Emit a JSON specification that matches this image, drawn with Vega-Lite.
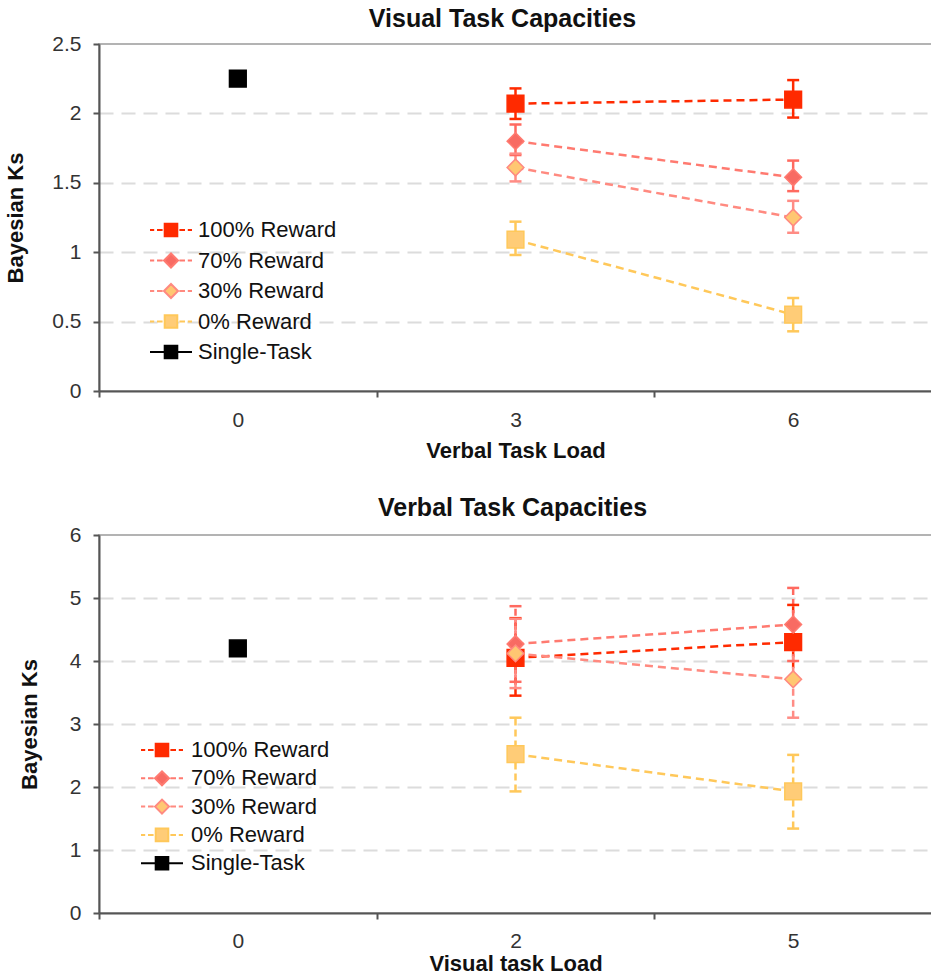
{
  "$schema": "https://vega.github.io/schema/vega-lite/v6.json",
  "padding": {"left": 4, "top": 6, "right": 0, "bottom": 0},
  "spacing": 33,
  "config": {
    "font": "Liberation Sans",
    "view": {"stroke": "#9a9a9a", "strokeWidth": 1.5},
    "axis": {
      "labelFont": "Liberation Sans", "labelFontSize": 21, "labelColor": "#333333",
      "titleFont": "Liberation Sans", "titleFontSize": 22, "titleFontWeight": "bold", "titleColor": "#111111",
      "domainColor": "#555555", "domainWidth": 2, "tickColor": "#555555", "tickWidth": 2, "tickSize": 6
    },
    "legend": {
      "symbolType": {"expr": "datum.label === 'Single-Task' ? 'M-3,0H-0.85M0.85,0H3M-0.9,-0.9H0.9V0.9H-0.9Z' : (datum.label === '70% Reward' || datum.label === '30% Reward') ? 'M-3,0H-2.4M-2,0H-1.2M1.2,0H2M2.4,0H3M-1,0L0,-1L1,0L0,1Z' : 'M-3,0H-2.4M-2,0H-1.2M1.2,0H2M2.4,0H3M-0.9,-0.9H0.9V0.9H-0.9Z'"},
      "symbolStrokeColor": {"expr": "datum.label === '100% Reward' ? '#ff2a00' : datum.label === '70% Reward' ? '#ff7a70' : datum.label === '30% Reward' ? '#ff8a80' : datum.label === '0% Reward' ? '#ffc85a' : '#000000'"}
    },
    "title": {"font": "Liberation Sans", "fontSize": 25, "fontWeight": "bold", "color": "#111111", "frame": "group"}
  },
  "datasets": {
    "visual": [
      {"series": "Single-Task", "load": "0", "value": 2.25},
      {"series": "100% Reward", "load": "3", "value": 2.07, "lo": 1.96, "hi": 2.18},
      {"series": "100% Reward", "load": "6", "value": 2.10, "lo": 1.97, "hi": 2.24},
      {"series": "70% Reward", "load": "3", "value": 1.80, "lo": 1.70, "hi": 1.92},
      {"series": "70% Reward", "load": "6", "value": 1.54, "lo": 1.44, "hi": 1.66},
      {"series": "30% Reward", "load": "3", "value": 1.61, "lo": 1.51, "hi": 1.71},
      {"series": "30% Reward", "load": "6", "value": 1.25, "lo": 1.14, "hi": 1.37},
      {"series": "0% Reward", "load": "3", "value": 1.09, "lo": 0.98, "hi": 1.22},
      {"series": "0% Reward", "load": "6", "value": 0.55, "lo": 0.43, "hi": 0.67}
    ],
    "verbal": [
      {"series": "Single-Task", "load": "0", "value": 4.2},
      {"series": "100% Reward", "load": "2", "value": 4.05, "lo": 3.45, "hi": 4.68},
      {"series": "100% Reward", "load": "5", "value": 4.30, "lo": 3.71, "hi": 4.89},
      {"series": "70% Reward", "load": "2", "value": 4.27, "lo": 3.67, "hi": 4.87},
      {"series": "70% Reward", "load": "5", "value": 4.58, "lo": 4.00, "hi": 5.16},
      {"series": "30% Reward", "load": "2", "value": 4.12, "lo": 3.57, "hi": 4.67},
      {"series": "30% Reward", "load": "5", "value": 3.71, "lo": 3.10, "hi": 4.32},
      {"series": "0% Reward", "load": "2", "value": 2.52, "lo": 1.93, "hi": 3.10},
      {"series": "0% Reward", "load": "5", "value": 1.93, "lo": 1.34, "hi": 2.51}
    ]
  },
  "vconcat": [
    {
      "width": 833, "height": 347,
      "title": {"text": "Visual Task Capacities", "dx": -13, "offset": 1},
      "data": {"name": "visual"},
      "encoding": {
        "x": {"field": "load", "type": "ordinal",
          "scale": {"type": "band", "domain": ["0", "3", "6"], "paddingInner": 0, "paddingOuter": 0},
          "axis": {"title": "Verbal Task Load", "labelAngle": 0, "tickBand": "extent", "labelPadding": 12, "titlePadding": 10, "grid": false}}
      },
      "layer": [
        {"mark": {"type": "rule", "strokeWidth": 2.5},
         "encoding": {
           "y": {"field": "lo", "type": "quantitative", "scale": {"domain": [0, 2.5], "nice": false, "zero": false},
             "axis": {"title": "Bayesian Ks", "values": [0, 0.5, 1, 1.5, 2, 2.5], "format": "~g", "grid": true,
               "gridDash": [14, 8], "gridWidth": 2,
               "gridColor": {"condition": {"test": "datum.value === 0 || datum.value === 2.5", "value": "transparent"}, "value": "#dcdcdc"},
               "labelPadding": 12, "titlePadding": 24}},
           "y2": {"field": "hi"},
           "color": {"field": "series", "type": "nominal", "legend": null,
             "scale": {"domain": ["Single-Task", "0% Reward", "30% Reward", "70% Reward", "100% Reward"], "range": ["#000000", "#ffc85a", "#ff8c85", "#ff6a60", "#ff2a00"]}}
         }},
        {"mark": {"type": "tick", "size": 12, "thickness": 2.5, "opacity": 1},
         "encoding": {"y": {"field": "lo", "type": "quantitative"}, "color": {"field": "series", "type": "nominal", "legend": null}}},
        {"mark": {"type": "tick", "size": 12, "thickness": 2.5, "opacity": 1},
         "encoding": {"y": {"field": "hi", "type": "quantitative"}, "color": {"field": "series", "type": "nominal", "legend": null}}},
        {"mark": {"type": "line", "strokeDash": [8, 5], "strokeWidth": 2.5},
         "encoding": {
           "y": {"field": "value", "type": "quantitative"},
           "stroke": {"field": "series", "type": "nominal", "legend": null,
             "scale": {"domain": ["Single-Task", "0% Reward", "30% Reward", "70% Reward", "100% Reward"], "range": ["#000000", "#ffc85a", "#ff8a80", "#ff7a70", "#ff2a00"]}}
         }},
        {"mark": {"type": "point", "filled": true, "size": 280, "strokeWidth": 1.5, "opacity": 1},
         "encoding": {
           "y": {"field": "value", "type": "quantitative"},
           "shape": {"field": "series", "type": "nominal", "legend": null,
             "scale": {"domain": ["Single-Task", "0% Reward", "30% Reward", "70% Reward", "100% Reward"], "range": ["square", "square", "diamond", "diamond", "square"]}},
           "stroke": {"field": "series", "type": "nominal", "legend": null},
           "fill": {"field": "series", "type": "nominal",
             "scale": {"domain": ["100% Reward", "70% Reward", "30% Reward", "0% Reward", "Single-Task"], "range": ["#ff2a00", "#f86b63", "#ffc772", "#ffcc77", "#000000"]},
             "legend": {"orient": "none", "legendX": 61, "legendY": 175, "direction": "vertical", "title": null,
               "symbolSize": 196, "symbolStrokeWidth": 2, "symbolOpacity": 1, "labelFontSize": 22, "labelFont": "Liberation Sans", "labelColor": "#111111",
               "labelOffset": 16, "rowPadding": 8.5, "padding": 0}}
         }}
      ]
    },
    {
      "width": 833, "height": 378,
      "title": {"text": "Verbal Task Capacities", "dx": -3, "offset": 3},
      "data": {"name": "verbal"},
      "encoding": {
        "x": {"field": "load", "type": "ordinal",
          "scale": {"type": "band", "domain": ["0", "2", "5"], "paddingInner": 0, "paddingOuter": 0},
          "axis": {"title": "Visual task Load", "labelAngle": 0, "tickBand": "extent", "labelPadding": 11, "titlePadding": 2, "grid": false}}
      },
      "layer": [
        {"mark": {"type": "rule", "strokeWidth": 2.5, "strokeDash": [7, 4]},
         "encoding": {
           "y": {"field": "lo", "type": "quantitative", "scale": {"domain": [0, 6], "nice": false, "zero": false},
             "axis": {"title": "Bayesian Ks", "values": [0, 1, 2, 3, 4, 5, 6], "format": "~g", "grid": true,
               "gridDash": [14, 8], "gridWidth": 2,
               "gridColor": {"condition": {"test": "datum.value === 0 || datum.value === 6", "value": "transparent"}, "value": "#dcdcdc"},
               "labelPadding": 12, "titlePadding": 28}},
           "y2": {"field": "hi"},
           "color": {"field": "series", "type": "nominal", "legend": null,
             "scale": {"domain": ["Single-Task", "0% Reward", "30% Reward", "70% Reward", "100% Reward"], "range": ["#000000", "#ffc85a", "#ff8c85", "#ff6a60", "#ff2a00"]}}
         }},
        {"mark": {"type": "tick", "size": 12, "thickness": 2.5, "opacity": 1},
         "encoding": {"y": {"field": "lo", "type": "quantitative"}, "color": {"field": "series", "type": "nominal", "legend": null}}},
        {"mark": {"type": "tick", "size": 12, "thickness": 2.5, "opacity": 1},
         "encoding": {"y": {"field": "hi", "type": "quantitative"}, "color": {"field": "series", "type": "nominal", "legend": null}}},
        {"mark": {"type": "line", "strokeDash": [8, 5], "strokeWidth": 2.5},
         "encoding": {
           "y": {"field": "value", "type": "quantitative"},
           "stroke": {"field": "series", "type": "nominal", "legend": null,
             "scale": {"domain": ["Single-Task", "0% Reward", "30% Reward", "70% Reward", "100% Reward"], "range": ["#000000", "#ffc85a", "#ff8a80", "#ff7a70", "#ff2a00"]}}
         }},
        {"mark": {"type": "point", "filled": true, "size": 280, "strokeWidth": 1.5, "opacity": 1},
         "encoding": {
           "y": {"field": "value", "type": "quantitative"},
           "shape": {"field": "series", "type": "nominal", "legend": null,
             "scale": {"domain": ["Single-Task", "0% Reward", "30% Reward", "70% Reward", "100% Reward"], "range": ["square", "square", "diamond", "diamond", "square"]}},
           "stroke": {"field": "series", "type": "nominal", "legend": null},
           "fill": {"field": "series", "type": "nominal",
             "scale": {"domain": ["100% Reward", "70% Reward", "30% Reward", "0% Reward", "Single-Task"], "range": ["#ff2a00", "#f86b63", "#ffc772", "#ffcc77", "#000000"]},
             "legend": {"orient": "none", "legendX": 52, "legendY": 204, "direction": "vertical", "title": null,
               "symbolSize": 196, "symbolStrokeWidth": 2, "symbolOpacity": 1, "labelFontSize": 22, "labelFont": "Liberation Sans", "labelColor": "#111111",
               "labelOffset": 18, "rowPadding": 6.3, "padding": 0}}
         }}
      ]
    }
  ],
  "resolve": {"scale": {"color": "independent", "fill": "independent", "stroke": "independent", "shape": "independent"}, "legend": {"fill": "independent"}}
}
